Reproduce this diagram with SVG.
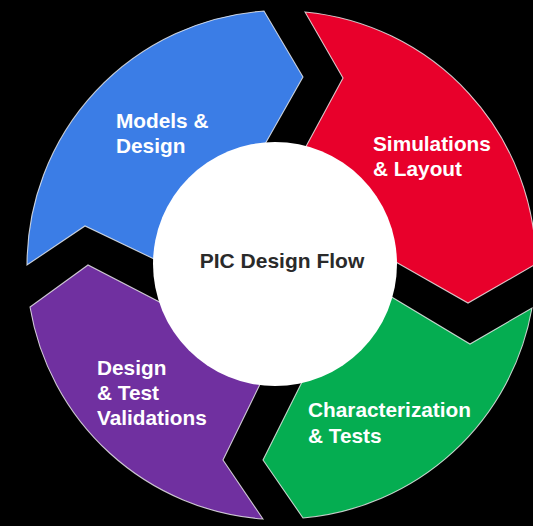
<svg xmlns="http://www.w3.org/2000/svg" width="533" height="526" viewBox="0 0 533 526">
  <style>
    .seg { stroke: #f2f2f2; stroke-opacity: 0.8; stroke-width: 1.1; stroke-linejoin: miter; }
    .lbl { font-family: "Liberation Sans", Arial, sans-serif; font-weight: bold; font-size: 20.8px; fill: #ffffff; }
    .ctr { font-family: "Liberation Sans", Arial, sans-serif; font-weight: bold; font-size: 21px; fill: #2a2a2a; }
  </style>
  <rect x="0" y="0" width="533" height="526" fill="#000000"/>
  <g id="connectors"></g>
  <g id="models-design">
    <path class="seg" fill="#3b7de6" d="M175,269 L85,226 L27,265 A255,255 0 0 1 264,11 L303,77 L256,160 Z"/>
    <text class="lbl" x="116" y="128">Models &amp;</text>
    <text class="lbl" x="116" y="153">Design</text>
  </g>
  <g id="simulations-layout">
    <path class="seg" fill="#e8002b" d="M296,165 L343,78 L305,12 A255,255 0 0 1 536,264 L468,303 L380,253 Z"/>
    <text class="lbl" x="373" y="151">Simulations</text>
    <text class="lbl" x="373" y="176">&amp; Layout</text>
  </g>
  <g id="characterization-tests">
    <path class="seg" fill="#05ad51" d="M375,287 L470,344 L532,308 A255,255 0 0 1 303,518 L263,460 L308,370 Z"/>
    <text class="lbl" x="308" y="417">Characterization</text>
    <text class="lbl" x="308" y="443">&amp; Tests</text>
  </g>
  <g id="design-test-validations">
    <path class="seg" fill="#7030a0" d="M267,370 L223,460 L263,519 A255,255 0 0 1 30,307 L88,265 L175,310 Z"/>
    <text class="lbl" x="97" y="375">Design</text>
    <text class="lbl" x="97" y="400">&amp; Test</text>
    <text class="lbl" x="97" y="425">Validations</text>
  </g>
  <g id="pic-design-flow">
    <circle cx="275" cy="264" r="122" fill="#ffffff"/>
    <text class="ctr" x="282" y="268" text-anchor="middle">PIC Design Flow</text>
  </g>
</svg>
